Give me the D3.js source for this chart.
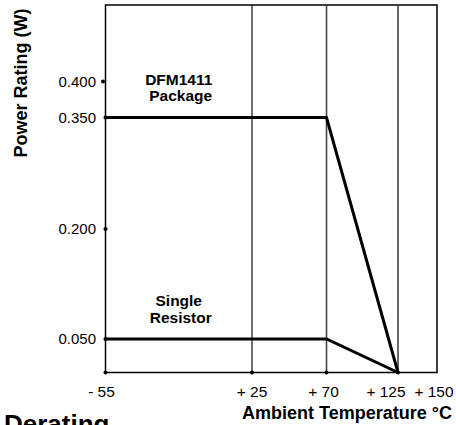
<!DOCTYPE html>
<html><head><meta charset="utf-8">
<script src="https://cdn.jsdelivr.net/npm/d3@7"></script>
<style>
html,body{margin:0;padding:0;background:#fff;}
svg{display:block;font-family:"Liberation Sans",Arial,Helvetica,sans-serif;}
</style></head>
<body><svg id="c" width="456" height="425"></svg>
<script>
// ---- data ----
const tempTicks = [-55, 25, 70, 125, 150];
const tempTickLabels = ["- 55", "+ 25", "+ 70", "+ 125", "+ 150"];
const powerTicks = [0.400, 0.350, 0.200, 0.050];
const powerTickLabels = ["0.400", "0.350", "0.200", "0.050"];
const packageTemps = [-55, 70, 125];
const packagePower = [0.35, 0.35, 0];
const resistorTemps = [-55, 70, 125];
const resistorPower = [0.05, 0.05, 0];
const packageLabel = ["DFM1411", "Package"];
const resistorLabel = ["Single", "Resistor"];
const xTitle = "Ambient Temperature °C";
const yTitle = "Power Rating (W)";
const heading = "Derating";

(function () {
// ---- layout ----
const svg = d3.select("#c");
const pL = 105.5, pR = 437, pT = 5, pB = 372.5;
// original figure uses an uneven temperature spacing
const x = d3.scaleLinear().domain([-55, 25, 70, 125, 150]).range([pL, 252, 326.5, 398, pR]);
const y = d3.scaleLinear().domain([0, 0.05, 0.2, 0.35, 0.4]).range([pB, 339, 229, 117.5, 81.5]);

// frame
svg.append("rect").attr("x", pL).attr("y", pT).attr("width", pR - pL).attr("height", pB - pT)
  .attr("fill", "none").attr("stroke", "#000").attr("stroke-width", 1.5);

// vertical grid lines
svg.selectAll("line.vg").data([25, 70, 125]).enter().append("line")
  .attr("x1", d => x(d)).attr("x2", d => x(d)).attr("y1", pT).attr("y2", pB)
  .attr("stroke", (d, i) => i === 0 ? "#111" : "#444").attr("stroke-width", (d, i) => i === 0 ? 1.2 : 1.6);

// tick dots on axes
svg.selectAll("circle.yd").data(powerTicks).enter().append("circle")
  .attr("cx", (d, i) => i === 0 ? pL - 2.5 : pL).attr("cy", d => y(d)).attr("r", 2).attr("fill", "#000");
svg.selectAll("circle.xd").data([-55, 25, 70, 125]).enter().append("circle")
  .attr("cx", d => x(d)).attr("cy", pB).attr("r", 2).attr("fill", "#000");

// data lines
const line = d3.line().x(d => x(d[0])).y(d => y(d[1]));
[[packageTemps, packagePower], [resistorTemps, resistorPower]].forEach(([ts, ps]) => {
  svg.append("path").datum(ts.map((t, i) => [t, ps[i]])).attr("d", line)
    .attr("fill", "none").attr("stroke", "#000").attr("stroke-width", 3).attr("stroke-linejoin", "miter");
});

// series labels
function seriesLabel(lines, level) {
  const cx = x(-15);
  lines.forEach((t, i) => {
    svg.append("text").attr("x", cx + (i === 1 ? 2 : 0)).attr("y", y(level) - 33 + i * 16.5)
      .attr("text-anchor", "middle").attr("font-size", 15.5).attr("font-weight", "bold").text(t);
  });
}
seriesLabel(packageLabel, 0.35);
seriesLabel(resistorLabel, 0.05);

// y tick labels
svg.selectAll("text.yt").data(powerTicks).enter().append("text")
  .attr("x", 96).attr("y", d => y(d)).attr("dy", "0.36em").attr("text-anchor", "end")
  .attr("font-size", 15).text((d, i) => powerTickLabels[i]);

// x tick labels
const xOff = [-4, 0, -3, -12, -3];
svg.selectAll("text.xt").data(tempTicks).enter().append("text")
  .attr("x", (d, i) => x(d) + xOff[i]).attr("y", 397).attr("text-anchor", "middle")
  .attr("font-size", 15.5).text((d, i) => tempTickLabels[i]);

// axis titles
svg.append("text").attr("x", 452).attr("y", 419).attr("text-anchor", "end")
  .attr("font-size", 18).attr("font-weight", "bold").text(xTitle);
svg.append("text").attr("transform", "translate(27,83) rotate(-90)").attr("text-anchor", "middle")
  .attr("font-size", 18).attr("font-weight", "bold").text(yTitle);

// cut-off heading
svg.append("text").attr("x", 4).attr("y", 433).attr("font-size", 26).attr("font-weight", "bold").text(heading);
})();
</script></body></html>
